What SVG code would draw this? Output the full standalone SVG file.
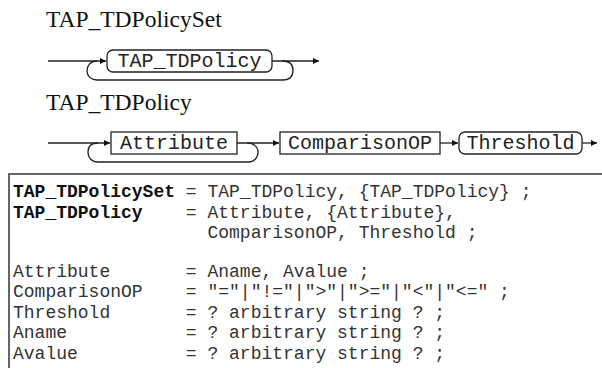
<svg xmlns="http://www.w3.org/2000/svg" width="602" height="368" viewBox="0 0 602 368">
  <style>
    .title { font-family: "Liberation Serif", "Times New Roman", serif; font-size: 23.5px; fill: #111; }
    .term { font-family: "Liberation Mono", "Courier New", monospace; font-size: 20px; fill: #222; }
    .box { fill: #fff; stroke: #222; stroke-width: 1.3; }
    .line { fill: none; stroke: #222; stroke-width: 1.3; }
    .code { font-family: "Liberation Mono", "Courier New", monospace; font-size: 18px; fill: #333; white-space: pre; }
    .code .b { font-weight: bold; fill: #111; }
  </style>
  <defs>
    <marker id="arr" viewBox="0 0 8 8" refX="8" refY="4" markerWidth="6" markerHeight="6" markerUnits="userSpaceOnUse" orient="auto">
      <path d="M0,0 L8,4 L0,8 z" fill="#111"/>
    </marker>
  </defs>

  <rect width="602" height="368" fill="#fff"/>

  <!-- Syntax diagram: TAP_TDPolicySet -->
  <text class="title" x="46" y="27">TAP_TDPolicySet</text>
  <g id="connectors">
    <!-- policy set: entry, repeat loop, exit -->
    <path class="line" d="M48,61 L106,61" marker-end="url(#arr)"/>
    <path class="line" d="M272,61 L319,61" marker-end="url(#arr)"/>
    <path class="line" d="M282,61 C290,61 293,65 293,70 C293,76 290,80 283,80 L97,80 C91,80 87,76 87,71 C87,66 90,61 97,61"/>
    <!-- policy: entry, repeat loop, sequence -->
    <path class="line" d="M48,143 L110,143" marker-end="url(#arr)"/>
    <path class="line" d="M247,143 C254,143 258,147 258,152 C258,158 254,162 248,162 L98,162 C92,162 88,158 88,152 C88,147 91,143 98,143"/>
    <path class="line" d="M237,143 L279,143" marker-end="url(#arr)"/>
    <path class="line" d="M440,143 L458,143" marker-end="url(#arr)"/>
    <path class="line" d="M582,143 L597,143" marker-end="url(#arr)"/>
  </g>
  <g id="set-policy">
    <rect class="box" x="107" y="50" width="165" height="22" rx="6"/>
    <text class="term" x="189.5" y="67" text-anchor="middle">TAP_TDPolicy</text>
  </g>

  <!-- Syntax diagram: TAP_TDPolicy -->
  <text class="title" x="46" y="110">TAP_TDPolicy</text>
  <g id="attribute">
    <rect class="box" x="111" y="132" width="126" height="22"/>
    <text class="term" x="174" y="149" text-anchor="middle">Attribute</text>
  </g>
  <g id="comparison-op">
    <rect class="box" x="280" y="132" width="160" height="22"/>
    <text class="term" x="360" y="149" text-anchor="middle">ComparisonOP</text>
  </g>
  <g id="threshold">
    <rect class="box" x="459" y="132" width="123" height="22" rx="6"/>
    <text class="term" x="520.5" y="149" text-anchor="middle">Threshold</text>
  </g>

  <!-- EBNF listing -->
  <g id="ebnf">
    <rect x="9" y="174" width="600" height="210" fill="#fff" stroke="#333" stroke-width="1.5"/>
    <text class="code" x="13" y="197"><tspan class="b">TAP_TDPolicySet</tspan> = TAP_TDPolicy, {TAP_TDPolicy} ;</text>
    <text class="code" x="13" y="217.5"><tspan class="b">TAP_TDPolicy</tspan>    = Attribute, {Attribute},</text>
    <text class="code" x="13" y="238">                  ComparisonOP, Threshold ;</text>
    <text class="code" x="13" y="276.5">Attribute       = Aname, Avalue ;</text>
    <text class="code" x="13" y="297">ComparisonOP    = "="|"!="|"&gt;"|"&gt;="|"&lt;"|"&lt;=" ;</text>
    <text class="code" x="13" y="317.5">Threshold       = ? arbitrary string ? ;</text>
    <text class="code" x="13" y="338">Aname           = ? arbitrary string ? ;</text>
    <text class="code" x="13" y="358.5">Avalue          = ? arbitrary string ? ;</text>
  </g>
</svg>
